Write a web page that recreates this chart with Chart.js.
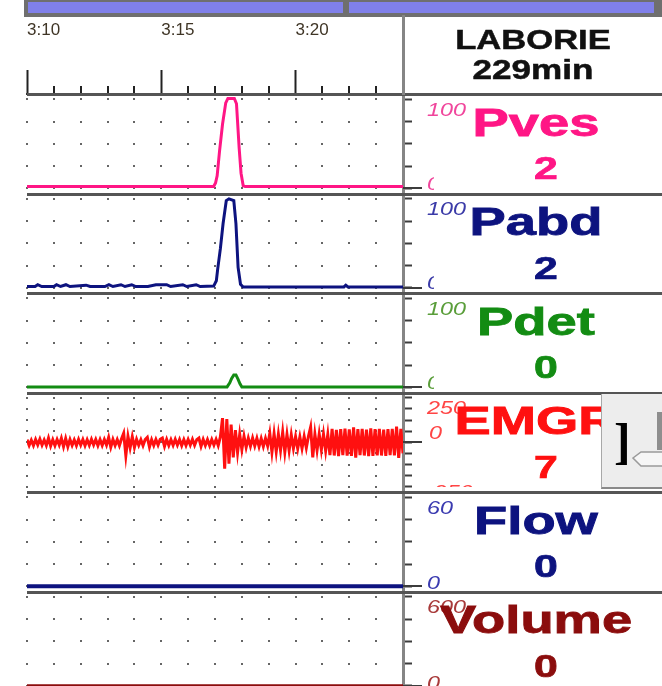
<!DOCTYPE html>
<html><head><meta charset="utf-8">
<script src="https://cdn.jsdelivr.net/npm/chart.js@4.4.1/dist/chart.umd.min.js"></script>
<style>
html,body{margin:0;padding:0;background:#fff;overflow:hidden;width:662px;height:686px;}
#wrap{position:relative;width:662px;height:686px;overflow:hidden;background:#fff;}
#c{position:absolute;left:0;top:0;}
#ov{position:absolute;left:0;top:0;width:662px;height:686px;}
.ov{position:absolute;white-space:nowrap;line-height:1;font-family:'Liberation Sans',Arial,sans-serif;}
</style></head><body>
<div id="wrap">
  <div style="position:absolute;left:24px;top:0;width:638px;height:17px;background:#6f6f6f"></div>
  <div style="position:absolute;left:28px;top:2px;width:315px;height:11px;background:#8080ea"></div>
  <div style="position:absolute;left:349px;top:2px;width:305px;height:11px;background:#8080ea"></div>
  <canvas id="c" width="662" height="691" style="width:662px;height:691px"></canvas>
  <div id="ov"></div>
</div>
<script>
// ---------- data ----------
const channelNames = ['Pves','Pabd','Pdet','EMGR','Flow','Volume'];
const currentValues = ['2','2','0','7','0','0'];
const scaleMin = [0,0,0,-250,0,0];
const scaleMax = [100,100,100,250,60,600];
const scaleDivisions = [4,4,4,8,4,4];
const scaleTopLabels = ['100','100','100','250','60','600'];
const scaleBottomLabels = ['0','0','0','-250','0','0'];
const channelColors = ['#ff1685','#0d137f','#138c13','#ff1010','#0d137f','#8b0d0d'];
const labelColors = ['#f0469c','#3b3ba8','#5a9e3a','#ff4545','#3b3bb0','#a83a3a'];
const lineWidths = [3,3,3,3,4,3];

const timeTickMinutes = [190,191,192,193,194,195,196,197,198,199,200,201,202,203];
const timeTickLabels = {190:'3:10',195:'3:15',200:'3:20'};
const timeMin = 190, timeMax = 204;

const pvesTime  = [190,196.95,197.02,197.08,197.17,197.28,197.4,197.48,197.72,197.8,197.9,197.97,198.05,198.12,204];
const pvesValue = [2,2,6,14,42,72,96,101,101,95,45,17,3,2,2];

const pabdTime  = [190,190.3,190.4,190.55,191.0,191.1,191.25,191.45,191.6,192.2,192.35,192.9,193.05,193.2,193.5,193.65,193.9,194.05,194.5,194.8,195.2,195.35,195.8,195.95,196.3,196.45,196.95,197.05,197.1,197.2,197.3,197.42,197.52,197.7,197.78,197.86,197.95,198.05,201.8,201.87,201.95,204];
const pabdValue = [1.5,1.5,3.5,1.5,1.5,3.5,1.5,3.5,1.5,3,1.5,1.5,3.5,1.5,3.5,1.5,3.5,1.5,1.5,3.5,3.5,1.5,3.5,1.5,3.5,1.5,2,8,21,44,72,98,100,98,72,23,4,1,1,3,1,1];

const pdetTime  = [190,197.45,197.55,197.62,197.7,197.78,197.86,197.93,198.0,204];
const pdetValue = [0.5,0.5,5,10,14,14,9,4,0.5,0.5];

const emgStart = 190, emgStep = 0.08;
const emgValue = [15,-17,12,-18,16,-14,18,-16,13,-17,
 24,-20,15,-18,16,-15,23,-25,22,-24,
 16,-17,14,-18,17,-15,16,-18,15,-16,
 17,-14,16,-18,15,-17,16,-15,28,-27,
 16,-17,15,-18,20,51,-74,34,-30,32,
 -28,17,-16,15,-18,16,28,-26,15,-17,
 16,-15,17,24,-22,16,-17,15,-16,17,
 -15,16,-18,15,-17,16,-15,17,-16,15,
 24,-22,16,-17,15,-18,16,-15,17,-18,
 30,136,-148,130,-120,100,-85,68,-57,45,
 -40,34,-28,23,-22,24,-20,23,-24,21,
 -23,22,-20,50,-55,48,-52,45,-45,57,
 -55,44,-46,42,-34,32,-35,30,-34,33,
 -31,34,85,-85,45,-44,46,-42,45,-47,
 44,-72,76,-74,70,-78,74,-72,77,-75,
 73,-76,84,-86,74,-72,76,-74,72,-77,
 78,-76,74,-73,76,-74,72,-76,74,-72,
 75,-74,88,-88,76,-62];

const flowTime = [190,204], flowValue = [0,0];
const volumeTime = [190,204], volumeValue = [0,0];

// ---------- build ----------
const FONT = "'Liberation Sans', Arial, sans-serif";
Chart.defaults.font.family = FONT;

function pts(t, v){ return t.map((x,i)=>({x:x, y:v[i]})); }
const seriesPoints = [
  pts(pvesTime,pvesValue),
  pts(pabdTime,pabdValue),
  pts(pdetTime,pdetValue),
  emgValue.map((v,i)=>({x:emgStart+i*emgStep, y:v})),
  pts(flowTime,flowValue),
  pts(volumeTime,volumeValue)
];

const datasets = channelNames.map((n,i)=>({
  label:n, data:seriesPoints[i], yAxisID:'y'+i,
  borderColor:channelColors[i], borderWidth:lineWidths[i],
  pointRadius:0, tension:0, fill:false, borderJoinStyle:'miter'
}));

const TOPPAD = 5.3/89, BOTPAD = 5.15/89;
const scales = {
  x: {
    type:'linear', position:'top', min:timeMin, max:timeMax,
    afterBuildTicks: s => { s.ticks = timeTickMinutes.map(v=>({value:v})); },
    afterFit: s => { s.height = 94; s.paddingLeft = 0; s.paddingRight = 0; },
    ticks: { autoSkip:false, maxRotation:0, minRotation:0, align:'start', padding:29,
      color:'#3f3526', font:{size:17, family:FONT},
      callback: v => timeTickLabels[v] || '' },
    grid: { drawOnChartArea:false, drawTicks:true, tickLength:24, tickWidth:2,
      tickColor: c => (c.tick && c.tick.value % 5 === 0) ? '#222' : 'rgba(0,0,0,0)' },
    border: { display:true, color:'#333', width:2 }
  }
};
channelNames.forEach((n,i)=>{
  const R = scaleMax[i]-scaleMin[i];
  const vals = [];
  for (let k=0;k<=scaleDivisions[i];k++) vals.push(scaleMin[i] + R*k/scaleDivisions[i]);
  scales['y'+i] = {
    type:'linear', position:'right', stack:'ch', stackWeight:1,
    min: scaleMin[i] - R*BOTPAD, max: scaleMax[i] + R*TOPPAD,
    afterBuildTicks: s => { s.ticks = vals.map(v=>({value:v})); },
    afterFit: s => { s.width = 259; s.paddingTop = 0; s.paddingBottom = 0; },
    ticks: { display:false },
    grid: { drawOnChartArea:false, drawTicks:true, tickLength:9, tickWidth:2, tickColor:'#3c3c3c' },
    border: { display:true, color:'#858585', width:3 }
  };
});

const uroPlugin = {
  id:'uro',
  beforeDatasetsDraw(chart){
    const ctx = chart.ctx, xs = chart.scales.x;
    ctx.save();
    ctx.fillStyle = '#666';
    channelNames.forEach((n,i)=>{
      const ys = chart.scales['y'+i];
      ys.ticks.forEach(t=>{
        const py = Math.round(ys.getPixelForValue(t.value));
        timeTickMinutes.forEach(m=>{
          const px = Math.round(xs.getPixelForValue(m));
          ctx.fillRect(px-1, py-1, 2, 2);
        });
      });
    });
    ctx.restore();
  },
  afterDraw(chart){
    const ctx = chart.ctx, xs = chart.scales.x, area = chart.chartArea;
    ctx.save();
    ctx.strokeStyle = '#222'; ctx.lineWidth = 2;
    timeTickMinutes.forEach(m=>{
      if (m % 5 !== 0){
        const px = Math.round(xs.getPixelForValue(m));
        ctx.beginPath(); ctx.moveTo(px, xs.bottom); ctx.lineTo(px, xs.bottom-8); ctx.stroke();
      }
    });
    channelNames.forEach((n,i)=>{
      const ys = chart.scales['y'+i];
      const y = Math.round(ys.top);
      ctx.fillStyle = '#555';
      ctx.fillRect(area.left, y-1, chart.width-area.left, 3);
      const y0 = Math.round(ys.getPixelForValue(0));
      ctx.fillStyle = '#3c3c3c';
      ctx.fillRect(Math.round(area.right), y0-1, 19, 2);
    });
    ctx.restore();
  }
};

const chart = new Chart(document.getElementById('c'), {
  type:'line',
  data:{ datasets },
  options:{
    responsive:false, animation:false, events:[],
    layout:{ padding:{ left:27, top:0, right:0, bottom:0 } },
    plugins:{ legend:{display:false}, tooltip:{enabled:false} },
    scales
  },
  plugins:[uroPlugin]
});

// ---------- right panel (HTML text) ----------
const ov = document.getElementById('ov');
function addDiv(css, txt){
  const d = document.createElement('div');
  d.className = 'ov';
  if (txt !== undefined) d.textContent = txt;
  Object.assign(d.style, css);
  ov.appendChild(d);
  return d;
}
// header box
addDiv({left:'402px', top:'15px', width:'3px', height:'80px', background:'#858585'});
addDiv({left:'533px', top:'25px', font:"bold 27px "+FONT, color:'#111', webkitTextStroke:'0.5px #111', transform:'translateX(-50%) scaleX(1.28)'}, 'LABORIE');
addDiv({left:'533px', top:'55px', font:"bold 27px "+FONT, color:'#111', webkitTextStroke:'0.5px #111', transform:'translateX(-50%) scaleX(1.3)'}, '229min');

channelNames.forEach((n,i)=>{
  const ys = chart.scales['y'+i];
  const T = ys.top;
  const small = {font:"italic 18px "+FONT, color:labelColors[i], transform:'scaleX(1.3)', transformOrigin:'0 0'};
  addDiv(Object.assign({left:'427px', top:(T+5.7)+'px'}, small), scaleTopLabels[i]);
  if (i < 3){
    const clip = addDiv({left:'427px', top:(T+79.7)+'px', width:'7px', height:'20px', overflow:'hidden'});
    const t = document.createElement('div'); t.className='ov';
    Object.assign(t.style, Object.assign({left:'0px', top:'0px'}, small));
    t.textContent = scaleBottomLabels[i]; clip.appendChild(t);
  } else if (i === 3){
    addDiv(Object.assign({left:'429px', top:(T+30.7)+'px'}, small), '0');
    const clip = addDiv({left:'426px', top:(T+90)+'px', width:'60px', height:'4px', overflow:'hidden'});
    const t = document.createElement('div'); t.className='ov';
    Object.assign(t.style, Object.assign({left:'0px', top:'-1px'}, small));
    t.textContent = scaleBottomLabels[i]; clip.appendChild(t);
  } else {
    addDiv(Object.assign({left:'427px', top:(T+81)+'px'}, small), scaleBottomLabels[i]);
  }
  addDiv({left:'536px', top:(T+7.5)+'px', font:"bold 38px "+FONT, color:channelColors[i], webkitTextStroke:'0.8px '+channelColors[i], transform:'translateX(-50%) scaleX(1.43)'}, n);
  addDiv({left:'546px', top:(T+57)+'px', font:"bold 31px "+FONT, color:channelColors[i], webkitTextStroke:'0.7px '+channelColors[i], transform:'translateX(-50%) scaleX(1.38)'}, currentValues[i]);
});

// grey widget over the EMGR label
(function(){
  const ys = chart.scales['y3'];
  const T = Math.round(ys.top);
  const w = addDiv({left:'601px', top:(T+1)+'px', width:'61px', height:'93px', background:'#ededed', borderLeft:'1px solid #a8a8a8', borderBottom:'2px solid #8a8a8a'});
  const b = document.createElement('div'); b.className='ov';
  Object.assign(b.style,{left:'12px', top:'18px', font:"bold 50px 'Liberation Serif', serif", color:'#000'});
  b.textContent = ']'; w.appendChild(b);
  const bar = document.createElement('div');
  Object.assign(bar.style,{position:'absolute', left:'55px', top:'18px', width:'6px', height:'38px', background:'#8e8e8e'});
  w.appendChild(bar);
  const svgNS = 'http://www.w3.org/2000/svg';
  const svg = document.createElementNS(svgNS,'svg');
  svg.setAttribute('width','40'); svg.setAttribute('height','30');
  Object.assign(svg.style,{position:'absolute', left:'25px', top:'52px'});
  const p = document.createElementNS(svgNS,'path');
  p.setAttribute('d','M40 6 L14 6 L6 12 L14 20 L40 20');
  p.setAttribute('fill','#f6f6f6'); p.setAttribute('stroke','#9a9a9a'); p.setAttribute('stroke-width','1.5');
  svg.appendChild(p); w.appendChild(svg);
})();
</script>
</body></html>
